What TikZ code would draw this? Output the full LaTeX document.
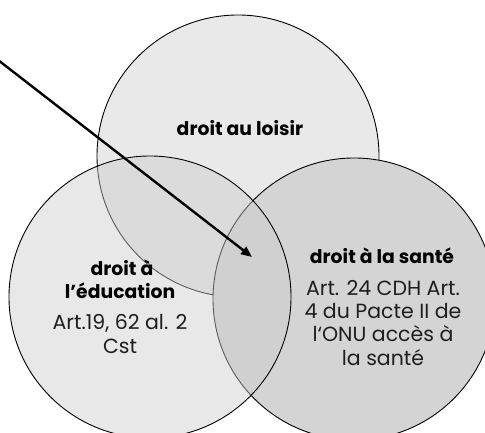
\documentclass[tikz,border=0pt]{standalone}
\usepackage{fontspec}
\setmainfont{Poppins}
\usetikzlibrary{arrows.meta}
\definecolor{fillT}{RGB}{233,233,233}
\definecolor{fillR}{RGB}{212,212,212}
\definecolor{fillL}{RGB}{204,204,204}
\definecolor{txt}{RGB}{30,30,30}
\begin{document}
\begin{tikzpicture}[x=1pt,y=-1pt,
  ttl/.style={font=\fontsize{18.8}{22}\selectfont\bfseries, text=black, anchor=base, inner sep=0pt},
  bdy/.style={font=\fontsize{20.5}{24}\selectfont, text=txt, anchor=base, inner sep=0pt},
  ring/.style={draw=black, line width=0.9pt}]
\useasboundingbox (0,0) rectangle (485,433);
\begin{scope}
  \clip (0,0) rectangle (485,433);
  \fill[fillT] (238,156) circle (141pt);
  \draw[ring] (238,156) circle (141pt);
  \fill[fillR] (354,299) circle (141pt);
  \draw[ring] (354,299) circle (141pt);
  \fill[fillL, opacity=0.45] (150,297) circle (141pt);
  \draw[ring] (150,297) circle (141pt);
\end{scope}
% top circle text
\node[ttl] (t1) at (240,136) {droit au loisir};
% left circle text
\node[ttl] (l1) at (122,275) {droit à};
\node[ttl] (l2) at (120,298.3) {l’éducation};
\node[bdy] (l3) at (120,329.3) {Art.19, 62 al. 2};
\node[bdy] (l4) at (120,353) {Cst};
% right circle text
\node[ttl] (r1) at (382,263.3) {droit à la santé};
\node[bdy] (r2) at (383,295) {Art. 24 CDH Art.};
\node[bdy] (r3) at (383,318.3) {4 du Pacte II de};
\node[bdy] (r4) at (383,341.7) {l‘ONU accès à};
\node[bdy] (r5) at (383,365) {la santé};
% arrow
\coordinate (s) at (-2,60);
\coordinate (e) at (252,257);
\draw[line width=2.4pt, -{Triangle[length=11pt,width=9pt]}] (s) -- (e);
\end{tikzpicture}
\end{document}
